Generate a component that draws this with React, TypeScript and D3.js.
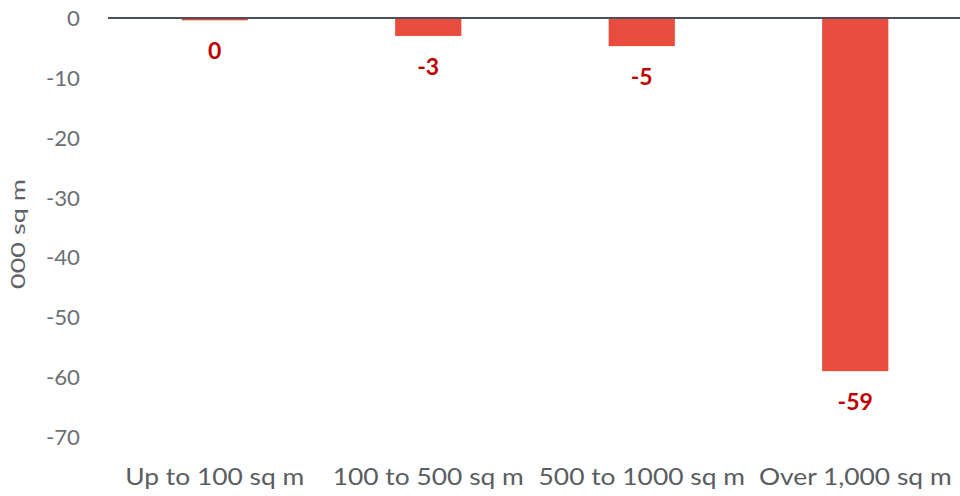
import React from "react";
import * as d3 from "d3";

const categories = ["Up to 100 sq m", "100 to 500 sq m", "500 to 1000 sq m", "Over 1,000 sq m"];
const values = [-0.4, -3.0, -4.7, -59.0];
const valueLabels = ["0", "-3", "-5", "-59"];
const yTicks = [0, -10, -20, -30, -40, -50, -60, -70];
const yTitle = "000 sq m";

const W = 960;
const H = 496;
const FONT = "Lato, 'Open Sans', sans-serif";

export default function App() {
  const x = d3.scaleBand<string>().domain(categories).range([108, 962]).paddingInner(0.69).paddingOuter(0.345);
  const y = d3.scaleLinear().domain([0, -70]).range([18, 437]);
  return (
    <svg width={W} height={H} style={{ position: "absolute", left: 0, top: 0 }}>
      <rect width={W} height={H} fill="#fff" />
      {yTicks.map((t) => (
        <text key={t} transform={`translate(80,${y(t) + 8}) scale(1.06,1)`} textAnchor="end" fontFamily={FONT} fontSize={21} fill="#6b6f74">
          {t}
        </text>
      ))}
      <text transform={`translate(25,234) rotate(-90)`} textAnchor="middle" fontFamily={FONT} fontSize={19} fill="#5d6166" textLength={110} lengthAdjust="spacingAndGlyphs">
        {yTitle}
      </text>
      {categories.map((c, i) => {
        const cx = (x(c) as number) + x.bandwidth() / 2;
        return (
          <g key={c}>
            <rect x={x(c)} y={y(0)} width={x.bandwidth()} height={y(values[i]) - y(0)} fill="#e84c3d" />
            <text x={cx} y={y(values[i]) + 39} textAnchor="middle" fontFamily={FONT} fontWeight={700} fontSize={23} fill="#c00000">
              {valueLabels[i]}
            </text>
            <text transform={`translate(${cx},485) scale(1.1,1)`} textAnchor="middle" fontFamily={FONT} fontSize={24} fill="#595d62">
              {c}
            </text>
          </g>
        );
      })}
      <line x1={108} x2={960} y1={y(0)} y2={y(0)} stroke="#4a5058" strokeWidth={2} />
    </svg>
  );
}
